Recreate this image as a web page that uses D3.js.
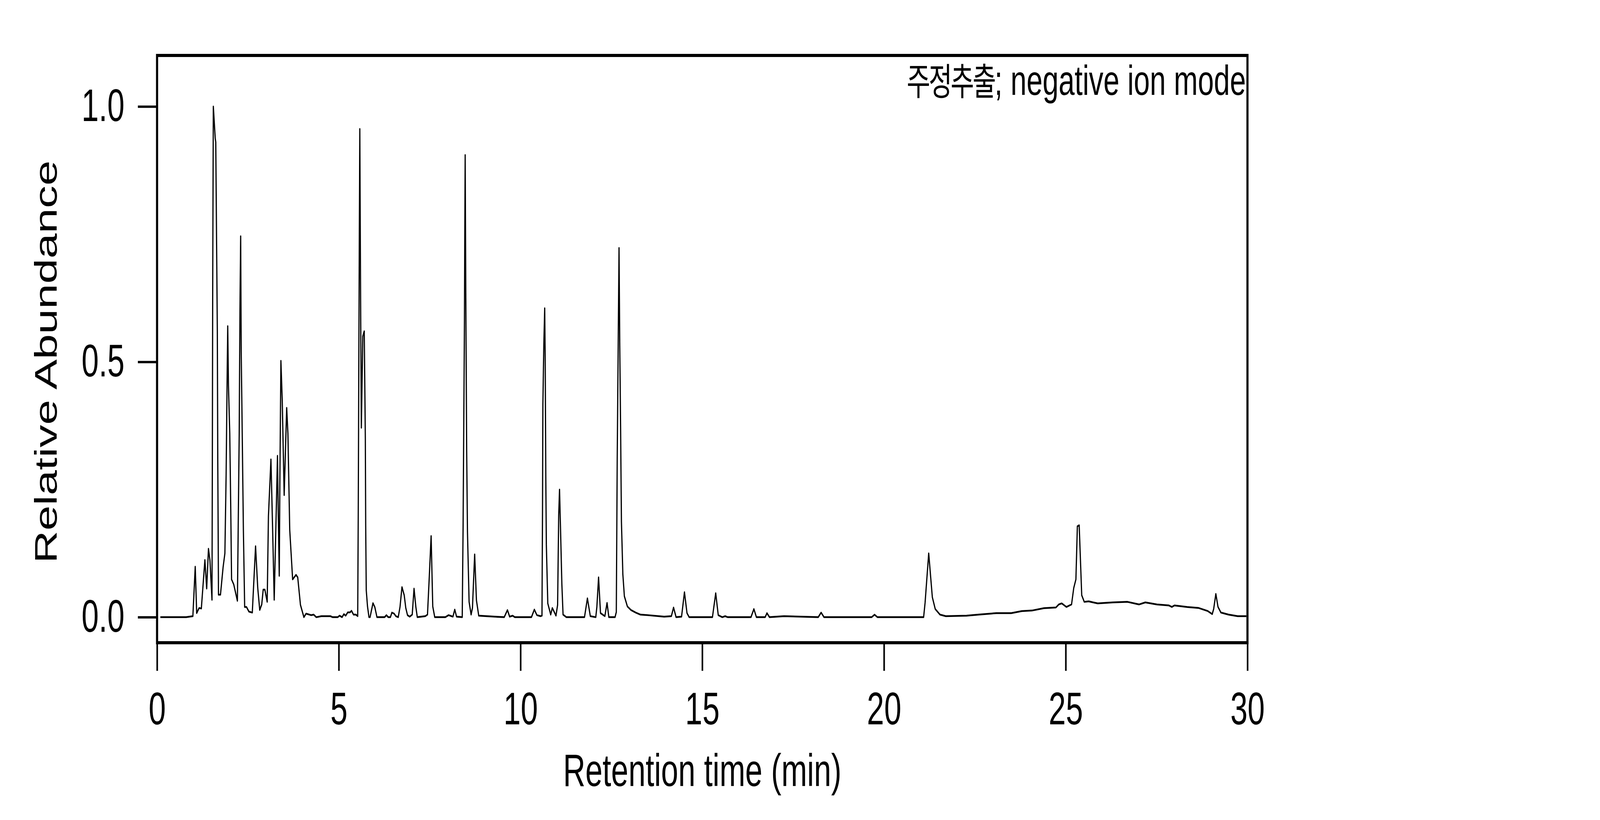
<!DOCTYPE html>
<html>
<head>
<meta charset="utf-8">
<script src="https://cdn.jsdelivr.net/npm/d3@7"></script>
<style>
  html, body { margin: 0; padding: 0; background: #fff; overflow: hidden; }
  #chrom svg { display: block; width: 100vw; height: 100vh; }
  .eje text { font-family: "Liberation Sans", Arial, sans-serif; font-size: 116px; fill: #000; }
  .eje line { stroke: #000; stroke-width: 6; }
  .label { font-family: "Liberation Sans", Arial, sans-serif; font-size: 116px; fill: #000; }
</style>
</head>
<body>
<div id="chrom"></div>
<script>
// retention time (min), relative abundance
const earlyPeaks = [
  [0.09, 0.000], [0.5, 0.000], [0.8, 0.000], [0.985, 0.002],
  [1.05, 0.099], [1.09, 0.008], [1.157, 0.018], [1.218, 0.017], [1.316, 0.112],
  [1.365, 0.056], [1.414, 0.134], [1.455, 0.111], [1.511, 0.034],
  [1.52, 0.28], [1.53, 0.62], [1.538, 0.80], [1.548, 1.000], [1.60, 0.938],
  [1.615, 0.93], [1.638, 0.73], [1.658, 0.56], [1.67, 0.31], [1.69, 0.044],
  [1.744, 0.044], [1.817, 0.098], [1.866, 0.125], [1.90, 0.279], [1.925, 0.45],
  [1.944, 0.570], [1.964, 0.454], [2.0, 0.36], [2.025, 0.226], [2.05, 0.074],
  [2.11, 0.064], [2.21, 0.032], [2.23, 0.16], [2.26, 0.36], [2.28, 0.60],
  [2.30, 0.746], [2.315, 0.52], [2.343, 0.36], [2.375, 0.17], [2.41, 0.02],
  [2.46, 0.02], [2.526, 0.011], [2.62, 0.009], [2.71, 0.139], [2.77, 0.057],
  [2.825, 0.014], [2.88, 0.025], [2.92, 0.054], [2.965, 0.054], [3.03, 0.03],
  [3.064, 0.198], [3.133, 0.309], [3.18, 0.17], [3.223, 0.034], [3.27, 0.18],
  [3.313, 0.316], [3.335, 0.20], [3.362, 0.081], [3.378, 0.259], [3.407, 0.502],
  [3.443, 0.427], [3.497, 0.239], [3.566, 0.41], [3.60, 0.36], [3.65, 0.171],
  [3.73, 0.074], [3.823, 0.083], [3.87, 0.078], [3.945, 0.024], [4.04, 0.0],
  [4.10, 0.007], [4.24, 0.004], [4.31, 0.005]
];

const midPeaks = [
  [4.38, 0.0], [4.52, 0.002], [4.77, 0.002], [4.83, 0.0], [4.97, 0.0],
  [5.02, 0.003], [5.09, 0.0], [5.14, 0.006], [5.19, 0.003], [5.246, 0.0095],
  [5.31, 0.0095], [5.35, 0.0126], [5.405, 0.005], [5.47, 0.005], [5.52, 0.002],
  [5.535, 0.20], [5.55, 0.48], [5.565, 0.75], [5.578, 0.956], [5.60, 0.62],
  [5.62, 0.371], [5.66, 0.55], [5.70, 0.56], [5.718, 0.435], [5.73, 0.35],
  [5.74, 0.18], [5.755, 0.053], [5.79, 0.021], [5.83, 0.0], [5.86, 0.0],
  [5.94, 0.0275], [5.99, 0.02], [6.05, 0.0], [6.26, 0.0], [6.31, 0.004],
  [6.36, 0.0], [6.42, 0.0], [6.46, 0.009], [6.52, 0.007], [6.57, 0.002],
  [6.635, 0.0], [6.684, 0.02], [6.738, 0.059], [6.80, 0.043], [6.843, 0.018],
  [6.89, 0.004], [6.95, 0.001], [7.02, 0.005], [7.07, 0.056], [7.12, 0.02],
  [7.16, 0.0], [7.38, 0.002], [7.44, 0.005], [7.49, 0.08], [7.54, 0.159],
  [7.585, 0.021], [7.64, 0.0], [7.93, 0.0], [8.02, 0.004], [8.14, 0.001],
  [8.19, 0.015], [8.24, 0.001], [8.396, 0.0], [8.42, 0.18], [8.445, 0.449],
  [8.457, 0.58], [8.465, 0.73], [8.477, 0.905], [8.494, 0.634], [8.506, 0.48],
  [8.518, 0.327], [8.54, 0.167], [8.585, 0.03], [8.64, 0.005], [8.677, 0.018],
  [8.738, 0.123], [8.787, 0.033], [8.85, 0.003], [9.29, 0.001], [9.55, 0.0],
  [9.57, 0.003], [9.64, 0.014], [9.70, 0.001], [9.785, 0.003], [9.84, 0.0],
  [10.3, 0.0], [10.38, 0.015], [10.45, 0.004], [10.55, 0.002], [10.59, 0.003],
  [10.605, 0.212], [10.615, 0.417], [10.64, 0.531], [10.665, 0.605], [10.68, 0.49],
  [10.695, 0.276], [10.71, 0.142], [10.75, 0.027], [10.83, 0.005], [10.875, 0.018],
  [10.975, 0.003], [11.02, 0.024], [11.05, 0.20], [11.073, 0.25], [11.10, 0.174],
  [11.137, 0.065], [11.17, 0.005], [11.26, 0.0], [11.76, 0.0], [11.84, 0.037],
  [11.92, 0.002], [12.07, 0.0], [12.10, 0.02], [12.147, 0.078], [12.20, 0.008],
  [12.32, 0.002], [12.38, 0.028], [12.43, 0.0], [12.60, 0.0], [12.635, 0.01],
  [12.66, 0.308], [12.685, 0.519], [12.71, 0.723], [12.73, 0.531], [12.753, 0.372],
  [12.776, 0.187], [12.815, 0.084], [12.857, 0.041], [12.94, 0.021], [13.04, 0.014],
  [13.17, 0.009], [13.30, 0.005]
];

const latePeaks = [
  [13.5, 0.004], [13.95, 0.001], [14.15, 0.002], [14.21, 0.019], [14.28, 0.0],
  [14.43, 0.001], [14.51, 0.049], [14.58, 0.008], [14.64, 0.0], [15.28, 0.0],
  [15.37, 0.047], [15.44, 0.004], [15.55, 0.0], [15.63, 0.002], [15.70, 0.0],
  [16.34, 0.0], [16.42, 0.016], [16.49, 0.0], [16.73, 0.0], [16.78, 0.008],
  [16.85, 0.0], [17.25, 0.002], [18.19, 0.0], [18.27, 0.009], [18.35, 0.0],
  [19.66, 0.0], [19.74, 0.005], [19.82, 0.0], [21.09, 0.0], [21.13, 0.028],
  [21.23, 0.125], [21.33, 0.039], [21.41, 0.016], [21.54, 0.005], [21.70, 0.002],
  [22.27, 0.003], [22.60, 0.005], [23.09, 0.008], [23.50, 0.008], [23.79, 0.012],
  [24.07, 0.013], [24.40, 0.0176], [24.73, 0.019], [24.81, 0.025], [24.89, 0.027],
  [25.02, 0.02], [25.16, 0.025], [25.22, 0.057], [25.28, 0.074], [25.32, 0.178],
  [25.37, 0.18], [25.44, 0.043], [25.51, 0.03], [25.63, 0.031], [25.88, 0.027],
  [26.29, 0.029], [26.70, 0.03], [27.02, 0.025], [27.19, 0.029], [27.51, 0.025],
  [27.84, 0.023], [27.92, 0.02], [27.99, 0.023], [28.34, 0.02], [28.66, 0.018],
  [28.91, 0.012], [29.03, 0.006], [29.07, 0.016], [29.13, 0.0456], [29.19, 0.02],
  [29.27, 0.009], [29.48, 0.005], [29.73, 0.002], [29.97, 0.002]
];

const xTicks = [0, 5, 10, 15, 20, 25, 30];
const yTicks = [0.0, 0.5, 1.0];
const xTitle = "Retention time (min)";
const yTitle = "Relative Abundance";
const sampleName = "주정추출";
const modeName = "; negative ion mode";

function drawChromatogram() {
    const trace = earlyPeaks.concat(midPeaks, latePeaks);

    const w = 6000;
    const h = 2100;
    const margin = ({ top: 142, right: 1322, bottom: 454, left: 589 });

    // viewBox so the chart fills the window whatever its pixel ratio
    const svg = d3.select("#chrom")
        .append("svg")
        .attr("viewBox", `0 0 ${w} ${h}`)
        .attr("preserveAspectRatio", "none")
        .append("g");

    const xScale = d3.scaleLinear()
        .domain([0, 30])
        .range([margin.left, w - margin.right]);

    const yScale = d3.scaleLinear()
        .domain([-0.05, 1.1])
        .range([h - margin.bottom, margin.top]);

    // Ejes
    const xAxis = d3.axisBottom(xScale)
        .tickValues(xTicks)
        .tickFormat(d3.format("d"))
        .tickSize(72)
        .tickSizeOuter(0)
        .tickPadding(55);

    const yAxis = d3.axisLeft(yScale)
        .tickValues(yTicks)
        .tickFormat(d3.format(".1f"))
        .tickSize(72)
        .tickSizeOuter(0)
        .tickPadding(50);

    svg.append("g")
        .attr("class", "eje")
        .attr("transform", `translate(0,${h - margin.bottom})`)
        .call(xAxis)
        .call(g => g.select(".domain").remove());

    svg.append("g")
        .attr("class", "eje")
        .attr("transform", `translate(${margin.left},0)`)
        .call(yAxis)
        .call(g => g.select(".domain").remove());

    // Cromatograma
    const line = d3.line()
        .x(d => xScale(d[0]))
        .y(d => yScale(d[1]));

    svg.append("path")
        .datum(trace)
        .attr("fill", "none")
        .attr("stroke", "#000")
        .attr("stroke-width", 4.5)
        .attr("stroke-linejoin", "round")
        .attr("d", line);

    // Marco
    svg.append("rect")
        .attr("x", margin.left)
        .attr("y", margin.top)
        .attr("width", w - margin.right - margin.left)
        .attr("height", h - margin.bottom - margin.top)
        .attr("fill", "none")
        .attr("stroke", "#000")
        .attr("stroke-width", 8);

    // Títulos de ejes
    svg.append("text")
        .attr("class", "label")
        .attr("x", (margin.left + w - margin.right) / 2)
        .attr("y", 2013)
        .style("text-anchor", "middle")
        .text(xTitle);

    svg.append("text")
        .attr("class", "label")
        .attr("transform", `translate(213,${(yScale(0) + yScale(1)) / 2}) rotate(-90)`)
        .style("text-anchor", "middle")
        .text(yTitle);

    // Nota de la muestra
    const note = svg.append("text")
        .attr("x", w - margin.right - 6)
        .attr("y", 243)
        .style("text-anchor", "end")
        .style("font-family", "'Liberation Sans', Arial, sans-serif")
        .style("font-size", "108px");

    note.append("tspan")
        .style("font-family", "'Noto Sans CJK KR', sans-serif")
        .style("font-size", "96px")
        .style("letter-spacing", "-6px")
        .text(sampleName);

    note.append("tspan")
        .text(modeName);
}

drawChromatogram();
</script>
</body>
</html>
